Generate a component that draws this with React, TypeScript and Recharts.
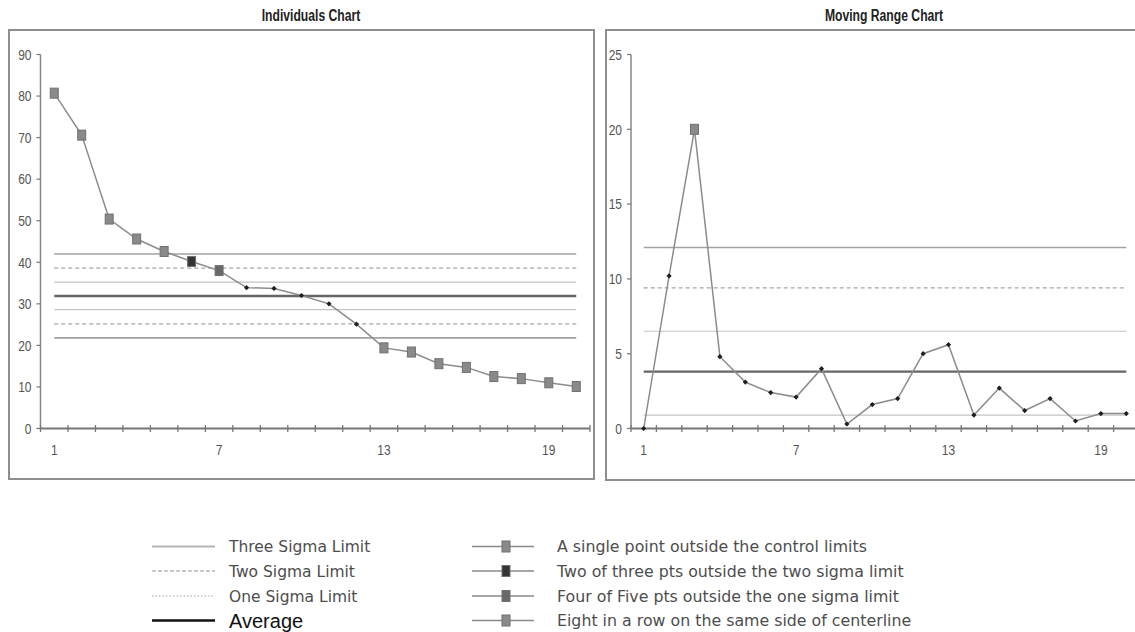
import React from 'react';
import { ComposedChart, Line, XAxis, YAxis } from 'recharts';

// ---------- data ----------
const indices = [1, 2, 3, 4, 5, 6, 7, 8, 9, 10, 11, 12, 13, 14, 15, 16, 17, 18, 19, 20];
const xLabelTicks = [1, 7, 13, 19];

const individualValues = [80.7, 70.6, 50.4, 45.6, 42.6, 40.2, 38.0, 33.9, 33.7, 32.0, 30.0, 25.1, 19.4, 18.4, 15.6, 14.7, 12.5, 12.0, 11.0, 10.1];
const individualFlags = ['single', 'single', 'single', 'single', 'single', 'twoOfThree', 'fourOfFive', 'none', 'none', 'none', 'none', 'none', 'single', 'single', 'single', 'single', 'single', 'single', 'single', 'single'];
// +3σ, +2σ, +1σ, average, -1σ, -2σ, -3σ
const individualLimits = [42.0, 38.6, 35.2, 31.9, 28.6, 25.2, 21.8];
const individualLimitKinds = ['sigma3', 'sigma2', 'sigma1', 'avg', 'sigma1', 'sigma2', 'sigma3'];
const individualYTicks = [0, 10, 20, 30, 40, 50, 60, 70, 80, 90];

const movingRangeValues = [0, 10.2, 20.0, 4.8, 3.1, 2.4, 2.1, 4.0, 0.3, 1.6, 2.0, 5.0, 5.6, 0.9, 2.7, 1.2, 2.0, 0.5, 1.0, 1.0];
const movingRangeFlags = ['none', 'none', 'single', 'none', 'none', 'none', 'none', 'none', 'none', 'none', 'none', 'none', 'none', 'none', 'none', 'none', 'none', 'none', 'none', 'none'];
// +3σ, +2σ, +1σ, average, -1σ
const movingRangeLimits = [12.1, 9.4, 6.5, 3.8, 0.9];
const movingRangeLimitKinds = ['sigma3', 'sigma2', 'sigma1', 'avg', 'sigma1'];
const movingRangeYTicks = [0, 5, 10, 15, 20, 25];

const legendLimitLabels = ['Three Sigma Limit', 'Two Sigma Limit', 'One Sigma Limit', 'Average'];
const legendLimitKinds = ['sigma3', 'sigma2', 'sigma1', 'avg'];
const legendRuleLabels = [
  'A single point outside the control limits',
  'Two of three pts outside the two sigma limit',
  'Four of Five pts outside the one sigma limit',
  'Eight in a row on the same side of centerline',
];
const legendRuleKinds = ['single', 'twoOfThree', 'fourOfFive', 'eight'];

// ---------- styles ----------
const limitStyle: Record<string, { stroke: string; width: number; dash?: string }> = {
  sigma3: { stroke: '#a2a2a2', width: 1.6 },
  sigma2: { stroke: '#a6a6a6', width: 1.3, dash: '4 3' },
  sigma1: { stroke: '#c4c4c4', width: 1.2 },
  avg: { stroke: '#666666', width: 2.4 },
};
const legendLineStyle: Record<string, { stroke: string; width: number; dash?: string }> = {
  sigma3: { stroke: '#b4b4b4', width: 2 },
  sigma2: { stroke: '#b8b8b8', width: 1.6, dash: '4 2' },
  sigma1: { stroke: '#c2c2c2', width: 1.6, dash: '1.5 2' },
  avg: { stroke: '#111111', width: 2.4 },
};
const markerFill: Record<string, string> = {
  single: '#8a8a8a',
  twoOfThree: '#343434',
  fourOfFive: '#686868',
  eight: '#8a8a8a',
};

const tickFont = "'Liberation Sans', Arial, sans-serif";
const legendFont = "'DejaVu Sans', Verdana, sans-serif";

const buildRows = (values: number[], flags: string[], limits: number[]) =>
  indices.map((x, i) => {
    const row: any = { x, v: values[i], flag: flags[i] };
    limits.forEach((l, k) => {
      row['l' + k] = l;
    });
    return row;
  });

const individualRows = buildRows(individualValues, individualFlags, individualLimits);
const movingRangeRows = buildRows(movingRangeValues, movingRangeFlags, movingRangeLimits);

const boundaryTicks = [...indices.map((i) => i - 0.5), indices[indices.length - 1] + 0.5];
const xTicks = [...boundaryTicks, ...xLabelTicks].sort((a, b) => a - b);

const renderMarker = (props: any) => {
  const { cx, cy, payload, index } = props;
  if (cx == null || cy == null) return <g key={'m' + index} />;
  if (payload.flag === 'none') {
    return (
      <path
        key={'m' + index}
        d={`M${cx - 2.6},${cy} L${cx},${cy - 2.6} L${cx + 2.6},${cy} L${cx},${cy + 2.6} Z`}
        fill="#1e1e1e"
      />
    );
  }
  return (
    <rect
      key={'m' + index}
      x={cx - 4}
      y={cy - 5}
      width={8}
      height={10}
      fill={markerFill[payload.flag]}
      stroke="#707070"
      strokeWidth={1}
    />
  );
};

const XTick = (props: any) => {
  const { x, y, payload } = props;
  const v = payload.value;
  if (Number.isInteger(v)) {
    if (!xLabelTicks.includes(v)) return <g />;
    return (
      <text
        transform={`translate(${x},${y + 26}) scale(0.8,1)`}
        textAnchor="middle"
        fontSize={15}
        fill="#555"
        fontFamily={tickFont}
      >
        {v}
      </text>
    );
  }
  return <line x1={x} x2={x} y1={y - 3.5} y2={y + 3.5} stroke="#777" strokeWidth={1.3} />;
};

const YTick = (props: any) => {
  const { x, y, payload } = props;
  return (
    <text
      transform={`translate(${x},${y + 5.3}) scale(0.8,1)`}
      textAnchor="end"
      fontSize={15}
      fill="#555"
      fontFamily={tickFont}
    >
      {payload.value}
    </text>
  );
};

function ControlChart({
  rows,
  limitKinds,
  yTicks,
  yMax,
  width,
  yAxisWidth,
}: {
  rows: any[];
  limitKinds: string[];
  yTicks: number[];
  yMax: number;
  width: number;
  yAxisWidth: number;
}) {
  return (
    <ComposedChart width={width} height={480} data={rows} margin={{ top: 54.5, right: 10, bottom: 21.5, left: 0 }}>
      <XAxis
        dataKey="x"
        type="number"
        domain={[0.5, 20.5]}
        ticks={xTicks}
        interval={0}
        tickSize={0}
        tickMargin={0}
        tickLine={false}
        tick={<XTick />}
        height={30}
        axisLine={{ stroke: '#777', strokeWidth: 2 }}
        allowDataOverflow
      />
      <YAxis
        type="number"
        domain={[0, yMax]}
        ticks={yTicks}
        interval={0}
        width={yAxisWidth}
        tickSize={4}
        tickMargin={5}
        tickLine={{ stroke: '#777', strokeWidth: 1.2 }}
        axisLine={{ stroke: '#888', strokeWidth: 1.5 }}
        tick={<YTick />}
      />
      {limitKinds.map((kind, k) => (
        <Line
          key={'lim' + k}
          dataKey={'l' + k}
          stroke={limitStyle[kind].stroke}
          strokeWidth={limitStyle[kind].width}
          strokeDasharray={limitStyle[kind].dash}
          dot={false}
          activeDot={false}
          isAnimationActive={false}
          type="linear"
        />
      ))}
      <Line
        dataKey="v"
        stroke="#8c8c8c"
        strokeWidth={1.5}
        dot={renderMarker}
        activeDot={false}
        isAnimationActive={false}
        type="linear"
      />
    </ComposedChart>
  );
}

const titleStyle = (cx: number): React.CSSProperties => ({
  position: 'absolute',
  left: cx - 100,
  top: 6,
  width: 200,
  height: 20,
  lineHeight: '20px',
  textAlign: 'center',
  fontFamily: "'Liberation Sans', Arial, sans-serif",
  fontWeight: 'bold',
  fontSize: 16,
  color: '#222',
  transform: 'scaleX(0.76)',
  transformOrigin: 'center',
});

export default function App() {
  const rowY = [546.5, 571, 596, 620.5];
  return (
    <div
      style={{
        position: 'absolute',
        left: 0,
        top: 0,
        width: 1135,
        height: 632,
        overflow: 'hidden',
        background: '#ffffff',
      }}
    >
      <div
        style={{
          position: 'absolute',
          left: 8,
          top: 29,
          width: 587,
          height: 451,
          border: '2px solid #8e8e8e',
          boxSizing: 'border-box',
        }}
      />
      <div
        style={{
          position: 'absolute',
          left: 605,
          top: 29,
          width: 600,
          height: 452,
          border: '2px solid #8e8e8e',
          boxSizing: 'border-box',
        }}
      />
      <div style={titleStyle(310.5)}>Individuals Chart</div>
      <div style={titleStyle(884)}>Moving Range Chart</div>

      <div style={{ position: 'absolute', left: 0, top: 0 }}>
        <ControlChart
          rows={individualRows}
          limitKinds={individualLimitKinds}
          yTicks={individualYTicks}
          yMax={90}
          width={600}
          yAxisWidth={40.5}
        />
      </div>
      <div style={{ position: 'absolute', left: 590, top: 0 }}>
        <ControlChart
          rows={movingRangeRows}
          limitKinds={movingRangeLimitKinds}
          yTicks={movingRangeYTicks}
          yMax={25}
          width={559}
          yAxisWidth={41}
        />
      </div>

      <svg style={{ position: 'absolute', left: 0, top: 0 }} width={1135} height={632}>
        {legendLimitLabels.map((label, i) => {
          const st = legendLineStyle[legendLimitKinds[i]];
          const isAvg = legendLimitKinds[i] === 'avg';
          return (
            <g key={'ll' + i}>
              <line
                x1={152}
                x2={215}
                y1={rowY[i]}
                y2={rowY[i]}
                stroke={st.stroke}
                strokeWidth={st.width}
                strokeDasharray={st.dash}
              />
              <text
                x={229}
                y={rowY[i]}
                dy={isAvg ? 7 : 5.5}
                fontSize={isAvg ? 20 : 15.5}
                fill={isAvg ? '#111' : '#4d4d4d'}
                fontFamily={isAvg ? tickFont : legendFont}
              >
                {label}
              </text>
            </g>
          );
        })}
        {legendRuleLabels.map((label, i) => (
          <g key={'lr' + i}>
            <line x1={472} x2={534} y1={rowY[i]} y2={rowY[i]} stroke="#8a8a8a" strokeWidth={1.6} />
            <rect
              x={502}
              y={rowY[i] - 5.5}
              width={8}
              height={11}
              fill={markerFill[legendRuleKinds[i]]}
              stroke="#707070"
              strokeWidth={1}
            />
            <text x={557} y={rowY[i]} dy={5.5} fontSize={15.8} fill="#4d4d4d" fontFamily={legendFont}>
              {label}
            </text>
          </g>
        ))}
      </svg>
    </div>
  );
}
